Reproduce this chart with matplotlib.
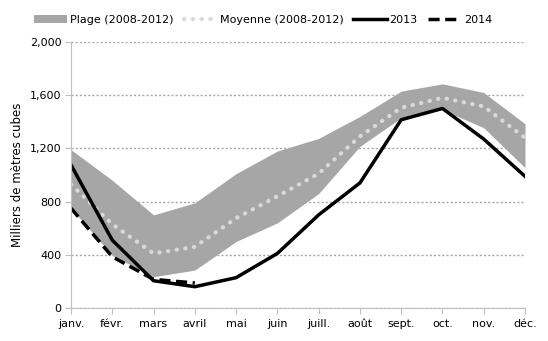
# Stocks mensuels - plage, moyenne, 2013 et 2014

import matplotlib.pyplot as plt
from matplotlib.ticker import FuncFormatter

# data
mois = ['janv.', 'févr.', 'mars', 'avril', 'mai', 'juin',
        'juill.', 'août', 'sept.', 'oct.', 'nov.', 'déc.']
plage_max = [1190, 960, 700, 790, 1010, 1180, 1275, 1440, 1630, 1685, 1620, 1385]
plage_min = [750, 395, 235, 285, 500, 640, 860, 1215, 1430, 1490, 1355, 1055]
moyenne = [930, 630, 410, 460, 675, 840, 1010, 1290, 1505, 1580, 1515, 1280]
annee_2013 = [1075, 510, 205, 160, 228, 410, 700, 940, 1415, 1500, 1270, 990]
annee_2014 = [750, 385, 215, 188]

x = list(range(len(mois)))

# plot
fig = plt.figure(figsize = (5.48, 3.41), dpi = 100)
ax = fig.add_axes([0.1296, 0.0968, 0.8284, 0.7802])

ax.fill_between(x, plage_min, plage_max, color = '#a6a6a6', linewidth = 0,
                label = 'Plage (2008-2012)')
ax.plot(x, moyenne, color = '#d9d9d9', linewidth = 3, linestyle = (0, (0.1, 2)),
        dash_capstyle = 'round', label = 'Moyenne (2008-2012)')
ax.plot(x, annee_2013, color = 'black', linewidth = 2.5, label = '2013')
ax.plot(x[:len(annee_2014)], annee_2014, color = 'black', linewidth = 2.5,
        linestyle = (0, (3.2, 1.6)), label = '2014')

ax.set_xlim(0, 11)
ax.set_ylim(0, 2000)
ax.set_xticks(x)
ax.set_xticklabels(mois)
ax.set_yticks(range(0, 2001, 400))
ax.yaxis.set_major_formatter(FuncFormatter(lambda v, p: f'{int(v):,}'))
ax.tick_params(axis = 'x', length = 4, color = '#bfbfbf', labelsize = 8, pad = 4)
ax.tick_params(axis = 'y', length = 4, color = '#bfbfbf', labelsize = 8, pad = 3)
ax.set_ylabel('Milliers de mètres cubes', fontsize = 8.5)

ax.grid(axis = 'y', color = '#a6a6a6', linestyle = (0, (1.5, 1.5)), linewidth = 1)
ax.set_axisbelow(True)
for s in ['top', 'right']:
    ax.spines[s].set_visible(False)
for s in ['left', 'bottom']:
    ax.spines[s].set_color('#bfbfbf')

ax.legend(loc = 'center', bbox_to_anchor = (0.423, 1.083), ncol = 4,
          frameon = False, fontsize = 8, handlelength = 3.0,
          columnspacing = 0.9, handletextpad = 0.25)

plt.savefig('out.png', dpi = 100)
